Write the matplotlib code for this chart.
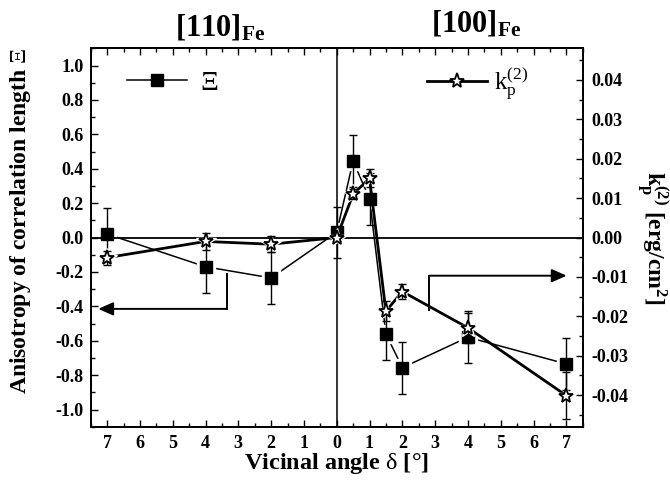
import matplotlib
matplotlib.use("Agg")
import matplotlib.pyplot as plt
from matplotlib.lines import Line2D
from matplotlib.ticker import MultipleLocator, FormatStrFormatter, FuncFormatter

# signed vicinal angle: negative = [110]Fe side, positive = [100]Fe side
angle = [-7, -4, -2, 0, 0.5, 1, 1.5, 2, 4, 7]
xi = [0.02, -0.17, -0.235, 0.03, 0.445, 0.225, -0.56, -0.757, -0.58, -0.735]
xi_err = [0.15, 0.15, 0.15, 0.15, 0.15, 0.15, 0.15, 0.15, 0.15, 0.15]
kp = [-0.0051, -0.0010, -0.0017, 0.0, 0.011, 0.015, -0.0187, -0.0137, -0.0229, -0.0401]
kp_err = [0.0018, 0.0021, 0.0021, 0.001, 0.0013, 0.0023, 0.0026, 0.002, 0.0038, 0.006]

plt.rcParams["font.family"] = ["Liberation Serif", "DejaVu Serif"]
plt.rcParams["mathtext.fontset"] = "custom"
plt.rcParams["mathtext.rm"] = "Liberation Serif"
plt.rcParams["mathtext.bf"] = "Liberation Serif:bold"
plt.rcParams["mathtext.it"] = "Liberation Serif:italic"
plt.rcParams["axes.unicode_minus"] = False

fig = plt.figure(figsize=(6.7, 4.88), dpi=100)
ax = fig.add_axes([0.1354, 0.1256, 0.7343, 0.7754])
ax2 = ax.twinx()

ax.set_xlim(-7.5, 7.5)
ax.set_ylim(-1.1, 1.1)
ax2.set_ylim(-0.048, 0.048)

# zero lines
ax.axhline(0, color="k", lw=1.3, zorder=2.5)
ax.axvline(0, color="k", lw=1.1, zorder=2.5)

# Xi series (left axis)
ax.plot(angle, xi, color="k", lw=1.1, zorder=2)
ax.plot(angle, xi, ls="none", marker="s", ms=13, color="white", zorder=2.3)
ax.errorbar(angle, xi, yerr=xi_err, fmt="none", ecolor="k", elinewidth=1.0,
            capsize=3, capthick=1.0, zorder=4)
ax.plot(angle, xi, ls="none", marker="s", ms=8.5, color="k", zorder=5)

# kp series (right axis)
ax2.plot(angle, kp, color="k", lw=2.0, zorder=2.1)
ax2.plot(angle, kp, ls="none", marker="*", ms=15, color="white", zorder=2.3)
ax2.errorbar(angle, kp, yerr=kp_err, fmt="none", ecolor="k", elinewidth=1.0,
             capsize=3, capthick=1.0, zorder=4)
ax2.plot(angle, kp, ls="none", marker="*", ms=11, mfc="white", mec="k",
         mew=1.3, zorder=5)

# arrows pointing to the respective axes
arr = dict(arrowstyle="-|>,head_length=0.9,head_width=0.4", color="k",
           lw=1.4, shrinkA=0, shrinkB=0)
ax.plot([-3.35, -3.35], [-0.212, -0.415], color="k", lw=1.4)
ax.annotate("", xy=(-7.27, -0.415), xytext=(-3.35, -0.415), arrowprops=arr)
ax.plot([2.82, 2.82], [-0.421, -0.222], color="k", lw=1.4)
ax.annotate("", xy=(7.01, -0.222), xytext=(2.82, -0.222), arrowprops=arr)

# ticks
ax.xaxis.set_major_locator(MultipleLocator(1))
ax.xaxis.set_minor_locator(MultipleLocator(0.5))
ax.xaxis.set_major_formatter(FuncFormatter(lambda v, p: "%d" % abs(round(v))))
ax.yaxis.set_major_locator(MultipleLocator(0.2))
ax.yaxis.set_minor_locator(MultipleLocator(0.1))
ax.yaxis.set_major_formatter(FormatStrFormatter("%.1f"))
ax2.yaxis.set_major_locator(MultipleLocator(0.01))
ax2.yaxis.set_minor_locator(MultipleLocator(0.005))
ax2.yaxis.set_major_formatter(FormatStrFormatter("%.2f"))

ax.tick_params(which="both", direction="in", top=True, right=False, width=1.0)
ax.tick_params(which="major", length=5)
ax.tick_params(which="minor", length=3)
ax.tick_params(axis="x", pad=6)
ax.tick_params(axis="y", pad=5)
ax2.tick_params(which="both", direction="in", width=1.0, pad=6)
ax2.tick_params(which="major", length=5)
ax2.tick_params(which="minor", length=3)
for a in (ax, ax2):
    for lab in a.get_xticklabels() + a.get_yticklabels():
        lab.set_fontsize(13)
        lab.set_fontweight("bold")
    for sp in a.spines.values():
        sp.set_linewidth(1.3)

# legends
h1 = Line2D([], [], color="k", lw=1.1, marker="s", ms=8.5)
h2 = Line2D([], [], color="k", lw=2.0, marker="*", ms=11, mfc="white", mec="k", mew=1.3)
leg1 = ax2.legend([h1], ["Ξ"], loc="center left", bbox_to_anchor=(0.074, 0.9075),
                  frameon=False, prop={"size": 20}, handlelength=2.15,
                  handletextpad=0.5, borderpad=0, borderaxespad=0)
ax2.add_artist(leg1)
ax2.legend([h2], [r"$\mathregular{k_p^{(2)}}$"], loc="center left",
           bbox_to_anchor=(0.6835, 0.9075), frameon=False, prop={"size": 18},
           handlelength=2.4, handletextpad=0.3, borderpad=0, borderaxespad=0)

# labels and titles
fig.text(21 / 670, 1 - 221 / 488, r"Anisotropy of correlation length $\mathrm{Ξ}$",
         rotation=90, ha="center", va="center", fontsize=17, fontweight="bold")
fig.text(652 / 670, 1 - 238 / 488,
         r"$\mathbf{k_p^{(2)}}$ [erg/cm$^\mathbf{2}$]",
         rotation=-90, ha="center", va="center", fontsize=17, fontweight="bold")
fig.text(336.7 / 670, 1 - 463 / 488, r"Vicinal angle $\mathrm{δ}$ [°]",
         ha="center", va="center", fontsize=17.5, fontweight="bold")
fig.text(220 / 670, 1 - 35 / 488, r"[110]$_\mathbf{Fe}$", ha="center",
         va="baseline", fontsize=22, fontweight="bold")
fig.text(476 / 670, 1 - 32 / 488, r"[100]$_\mathbf{Fe}$", ha="center",
         va="baseline", fontsize=22, fontweight="bold")

fig.savefig("out.png", dpi=100)
